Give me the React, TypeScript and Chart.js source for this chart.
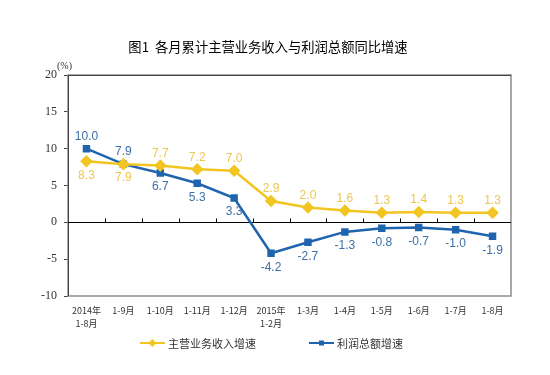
import React, { useEffect, useRef } from "react";
import { Chart, registerables } from "chart.js";

Chart.register(...registerables);

const categories: string[][] = [
  ["2014年", "1-8月"], ["1-9月"], ["1-10月"], ["1-11月"], ["1-12月"],
  ["2015年", "1-2月"], ["1-3月"], ["1-4月"], ["1-5月"], ["1-6月"], ["1-7月"], ["1-8月"],
];
const revenueGrowth = [8.3, 7.9, 7.7, 7.2, 7.0, 2.9, 2.0, 1.6, 1.3, 1.4, 1.3, 1.3];
const profitGrowth = [10.0, 7.9, 6.7, 5.3, 3.3, -4.2, -2.7, -1.3, -0.8, -0.7, -1.0, -1.9];
const revenueLabelBelow = [true, true, false, false, false, false, false, false, false, false, false, false];
const profitLabelBelow = [false, false, true, true, true, true, true, true, true, true, true, true];
const yTicks = [-10, -5, 0, 5, 10, 15, 20];

const TITLE = "图1  各月累计主营业务收入与利润总额同比增速";
const UNIT = "(%)";
const YELLOW = "#F2C523";
const YELLOW_TEXT = "#EDC64E";
const BLUE = "#1F64AE";
const BLUE_TEXT = "#3D6EA6";
const CJK = "'Noto Sans CJK SC', sans-serif";
const LATIN = "'Liberation Sans', Arial, sans-serif";
const SERIF = "'Liberation Serif', 'Times New Roman', serif";

const decorPlugin = {
  id: "decor",
  beforeDatasetsDraw(chart: any) {
    const { ctx, chartArea: a, scales } = chart;
    ctx.save();
    ctx.strokeStyle = "#8c8c8c";
    ctx.lineWidth = 1.5;
    ctx.strokeRect(a.left, a.top, a.right - a.left, a.bottom - a.top);
    ctx.strokeStyle = "#444";
    ctx.lineWidth = 1;
    ctx.beginPath();
    ctx.moveTo(a.left + 0.5, a.top);
    ctx.lineTo(a.left + 0.5, a.bottom);
    ctx.moveTo(a.left, a.top + 0.5);
    ctx.lineTo(a.right, a.top + 0.5);
    ctx.stroke();
    const y0 = Math.round(scales.y.getPixelForValue(0)) + 0.5;
    ctx.strokeStyle = "#000";
    ctx.lineWidth = 1;
    ctx.beginPath();
    ctx.moveTo(a.left, y0);
    ctx.lineTo(a.right, y0);
    const n = categories.length;
    const w = (a.right - a.left) / n;
    for (let k = 1; k < n; k++) {
      const x = Math.round(a.left + w * k) + 0.5;
      ctx.moveTo(x, y0);
      ctx.lineTo(x, y0 - 4);
    }
    ctx.stroke();
    ctx.restore();
  },
  afterDraw(chart: any) {
    const { ctx, scales } = chart;
    ctx.save();
    ctx.fillStyle = "#000";
    ctx.font = `normal 13.3px ${CJK}`;
    ctx.textAlign = "center";
    ctx.textBaseline = "middle";
    ctx.fillText(TITLE, 268, 47);
    ctx.font = `10px ${SERIF}`;
    ctx.fillStyle = "#333";
    ctx.textAlign = "left";
    ctx.fillText(UNIT, 57, 66);
    ctx.font = `12px ${LATIN}`;
    ctx.textAlign = "center";
    const drawLabels = (vals: number[], below: boolean[], color: string) => {
      ctx.fillStyle = color;
      vals.forEach((v, i) => {
        const x = scales.x.getPixelForValue(i);
        const y = scales.y.getPixelForValue(v);
        ctx.fillText(v.toFixed(1), x, below[i] ? y + 14 : y - 12);
      });
    };
    drawLabels(revenueGrowth, revenueLabelBelow, YELLOW_TEXT);
    drawLabels(profitGrowth, profitLabelBelow, BLUE_TEXT);
    const ly = 343;
    const items = [
      { x: 140, color: YELLOW, label: "主营业务收入增速", diamond: true },
      { x: 309, color: BLUE, label: "利润总额增速", diamond: false },
    ];
    ctx.font = `11px ${CJK}`;
    ctx.textAlign = "left";
    items.forEach((it) => {
      ctx.strokeStyle = it.color;
      ctx.lineWidth = 2;
      ctx.beginPath();
      ctx.moveTo(it.x, ly);
      ctx.lineTo(it.x + 25, ly);
      ctx.stroke();
      ctx.fillStyle = it.color;
      const cx = it.x + 12.5;
      if (it.diamond) {
        ctx.beginPath();
        ctx.moveTo(cx, ly - 4);
        ctx.lineTo(cx + 4, ly);
        ctx.lineTo(cx, ly + 4);
        ctx.lineTo(cx - 4, ly);
        ctx.closePath();
        ctx.fill();
      } else {
        ctx.fillRect(cx - 2.5, ly - 2.5, 5, 5);
      }
      ctx.fillStyle = "#333";
      ctx.fillText(it.label, it.x + 28, ly + 1);
    });
    ctx.restore();
  },
};

export default function App() {
  const ref = useRef<HTMLCanvasElement | null>(null);
  useEffect(() => {
    if (!ref.current) return;
    const chart = new Chart(ref.current, {
      type: "line",
      data: {
        labels: categories,
        datasets: [
          {
            label: "主营业务收入增速",
            data: revenueGrowth,
            borderColor: YELLOW,
            backgroundColor: YELLOW,
            borderWidth: 2.5,
            pointStyle: "rectRot",
            pointRadius: 4.5,
            pointHoverRadius: 4.5,
            tension: 0,
          },
          {
            label: "利润总额增速",
            data: profitGrowth,
            borderColor: BLUE,
            backgroundColor: BLUE,
            borderWidth: 2.5,
            pointStyle: "rect",
            pointRadius: 3.5,
            pointHoverRadius: 3.5,
            tension: 0,
          },
        ],
      },
      options: {
        animation: false,
        responsive: false,
        maintainAspectRatio: false,
        layout: { padding: { left: 0, right: 39, top: 75, bottom: 39 } },
        plugins: {
          legend: { display: false },
          title: { display: false },
          tooltip: { enabled: false },
        },
        scales: {
          x: {
            offset: true,
            grid: { display: false, drawTicks: false },
            border: { display: false },
            ticks: {
              font: { size: 9, family: CJK, lineHeight: 1.35 },
              color: "#333",
              padding: 9,
              maxRotation: 0,
              autoSkip: false,
            },
            afterFit(scale: any) {
              scale.height = 40;
            },
          },
          y: {
            min: -10,
            max: 20,
            afterBuildTicks(scale: any) {
              scale.ticks = yTicks.map((v) => ({ value: v }));
            },
            grid: { drawOnChartArea: false, drawTicks: true, tickLength: 4, color: "#444" },
            border: { display: false },
            ticks: {
              font: { size: 12, family: SERIF },
              color: "#333",
              padding: 7,
            },
            afterFit(scale: any) {
              scale.width = 68;
            },
          },
        },
      },
      plugins: [decorPlugin],
    });
    return () => chart.destroy();
  }, []);
  return (
    <div style={{ position: "fixed", left: 0, top: 0, width: 550, height: 375, background: "#fff" }}>
      <canvas ref={ref} width={550} height={375} style={{ width: 550, height: 375 }} />
    </div>
  );
}
